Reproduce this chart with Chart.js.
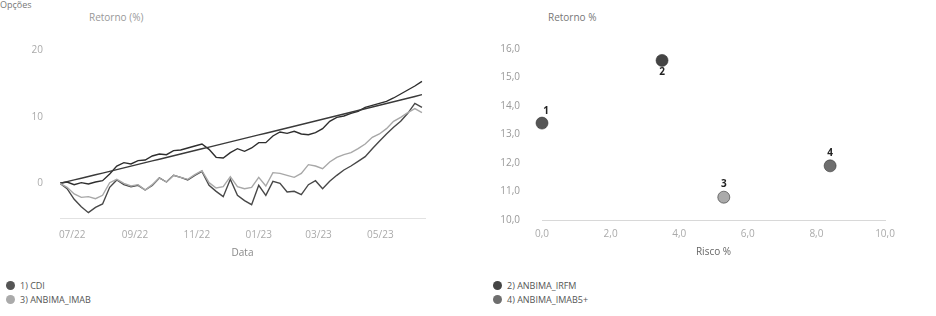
<!DOCTYPE html>
<html>
<head>
<meta charset="utf-8">
<script src="https://cdn.jsdelivr.net/npm/chart.js@4.4.0/dist/chart.umd.min.js"></script>
<style>
  body { margin: 0; width: 936px; height: 316px; background: #fff; position: relative; overflow: hidden; font-family: 'Open Sans', sans-serif; }
  .txt { position: absolute; color: #999; font-size: 10px; white-space: nowrap; }
  #leftBox { position: absolute; left: 0; top: 0; width: 470px; height: 270px; }
  #rightBox { position: absolute; left: 470px; top: 0; width: 466px; height: 270px; }
  .leg { position: absolute; font-size: 9px; color: #555; white-space: nowrap; line-height: 12px; }
  .dot { display: inline-block; width: 9px; height: 9px; border-radius: 50%; vertical-align: -1px; margin-right: 5px; }
</style>
</head>
<body>
<div class="txt" style="left:0;top:-2px;color:#777;font-size:9px">Opções</div>
<div class="txt" style="left:89px;top:10px">Retorno (%)</div>
<div class="txt" style="left:548px;top:10px;color:#777">Retorno %</div>
<div id="leftBox"><canvas id="retornoChart"></canvas></div>
<div id="rightBox"><canvas id="riscoChart"></canvas></div>
<div id="legend"></div>
<script>
// weekly series, first week starts 19/06/2022
const weekStart = '2022-06-19';
const cdi = [0, 0.25, 0.51, 0.76, 1.02, 1.28, 1.54, 1.8, 2.06, 2.32, 2.58, 2.84, 3.1, 3.36, 3.62, 3.88,
  4.14, 4.4, 4.66, 4.92, 5.18, 5.44, 5.7, 5.96, 6.22, 6.48, 6.74, 7.0, 7.26, 7.52, 7.78, 8.04,
  8.3, 8.56, 8.82, 9.08, 9.35, 9.61, 9.87, 10.13, 10.4, 10.66, 10.92, 11.18, 11.45, 11.71, 11.97,
  12.24, 12.5, 12.77, 13.03, 13.3];
const irfm = [0, 0.2, -0.2, 0.1, -0.1, 0.2, 0.4, 1.4, 2.6, 3.1, 2.9, 3.4, 3.5, 4.1, 4.4, 4.3,
  4.9, 5.0, 5.3, 5.6, 5.9, 5.1, 3.9, 3.8, 4.6, 5.2, 4.8, 5.3, 6.1, 6.1, 7.1, 7.7,
  7.5, 7.8, 7.4, 7.3, 7.6, 8.2, 9.3, 9.9, 10.1, 10.5, 10.8, 11.4, 11.7, 12.0, 12.3,
  12.8, 13.4, 14.0, 14.6, 15.3];
const imab = [0, -0.6, -1.6, -2.1, -2.0, -2.3, -1.8, 0.1, 0.6, 0.0, -0.4, -0.2, -1.0, -0.2, 0.8, 0.2,
  1.2, 0.9, 0.6, 1.3, 1.9, 0.1, -0.7, -0.5, 1.0, -0.5, -0.8, -0.6, 0.9, -0.4, 1.6, 1.5,
  1.2, 0.9, 1.5, 2.8, 2.6, 2.2, 3.2, 3.9, 4.3, 4.6, 5.2, 5.9, 6.9, 7.4, 8.2,
  9.3, 9.9, 10.6, 11.2, 10.6];
const imab5 = [0, -0.8, -2.4, -3.5, -4.4, -3.6, -3.1, -0.6, 0.5, -0.2, -0.5, -0.3, -1.0, -0.3, 0.8, 0.2,
  1.2, 0.9, 0.5, 1.2, 1.8, -0.3, -1.2, -2.0, 0.6, -1.8, -2.6, -3.2, -0.3, -1.8, 0.3, 0.0,
  -1.3, -1.2, -1.7, -0.2, 0.4, -0.8, 0.3, 1.2, 2.0, 2.6, 3.3, 4.0, 5.2, 6.3, 7.4,
  8.4, 9.3, 10.5, 12.0, 11.4];

const tickDates = ['2022-07-01', '2022-09-01', '2022-11-01', '2023-01-01', '2023-03-01', '2023-05-01'];
const tickLabels = ['07/22', '09/22', '11/22', '01/23', '03/23', '05/23'];

const names = ['1) CDI', '2) ANBIMA_IRFM', '3) ANBIMA_IMAB', '4) ANBIMA_IMAB5+'];
const risco = [0.0, 3.5, 5.3, 8.4];
const retorno = [13.4, 15.6, 10.8, 11.9];

const colors = ['#555', '#444', '#aaa', '#6e6e6e'];
const lineColors = ['#3a3a3a', '#2e2e2e', '#a8a8a8', '#484848'];

// days counted from 01/07/2022
const DAY = 86400000;
const origin = Date.parse('2022-07-01');
const dayOf = d => Math.round((Date.parse(d) - origin) / DAY);
const firstDay = dayOf(weekStart);
const days = cdi.map((_, i) => firstDay + 7 * i);

const toPts = arr => arr.map((v, i) => ({ x: days[i], y: v }));

const tickFont = { family: 'Open Sans', size: 10 };

new Chart(document.getElementById('retornoChart'), {
  type: 'line',
  data: {
    datasets: [
      { label: names[2], data: toPts(imab), borderColor: lineColors[2] },
      { label: names[3], data: toPts(imab5), borderColor: lineColors[3] },
      { label: names[0], data: toPts(cdi), borderColor: lineColors[0] },
      { label: names[1], data: toPts(irfm), borderColor: lineColors[1] }
    ]
  },
  options: {
    responsive: true,
    maintainAspectRatio: false,
    animation: false,
    layout: { padding: { top: 50, right: 45, left: 0, bottom: 0 } },
    elements: { point: { radius: 0 }, line: { borderWidth: 1.4, tension: 0 } },
    plugins: { legend: { display: false }, tooltip: { enabled: false } },
    scales: {
      x: {
        type: 'linear',
        min: -12,
        max: 348,
        grid: { display: false, drawTicks: false },
        border: { display: true, color: '#e2e2e2', dash: [2, 2] },
        afterBuildTicks: s => { s.ticks = tickDates.map(d => ({ value: dayOf(d) })); },
        afterFit: s => { s.height = 52; },
        ticks: { autoSkip: false, maxRotation: 0, padding: 11, color: '#aaa', font: tickFont,
          callback: (v, i) => tickLabels[i] },
        title: { display: true, text: 'Data', color: '#888', font: tickFont, padding: { top: 0, bottom: 11 } }
      },
      y: {
        min: -5.2,
        max: 20,
        grid: { display: false, drawTicks: false },
        border: { display: false },
        afterFit: s => { s.width = 60; },
        afterBuildTicks: s => { s.ticks = [0, 10, 20].map(v => ({ value: v })); },
        ticks: { padding: 17, color: '#aaa', font: tickFont }
      }
    }
  }
});

const tagOffsets = [[4, -12], [0, 12], [0, -13], [0, -13]];

const pointTags = {
  id: 'pointTags',
  afterDatasetsDraw(chart) {
    const ctx = chart.ctx;
    ctx.save();
    ctx.font = 'bold 10px "Open Sans"';
    ctx.fillStyle = '#222';
    ctx.textAlign = 'center';
    ctx.textBaseline = 'middle';
    chart.data.datasets.forEach((ds, i) => {
      const pt = chart.getDatasetMeta(i).data[0];
      ctx.fillText(String(i + 1), pt.x + tagOffsets[i][0], pt.y + tagOffsets[i][1]);
    });
    ctx.restore();
  }
};

new Chart(document.getElementById('riscoChart'), {
  type: 'scatter',
  data: {
    datasets: names.map((n, i) => ({
      label: n,
      data: [{ x: risco[i], y: retorno[i] }],
      backgroundColor: colors[i],
      borderColor: '#333',
      borderWidth: 0.6,
      pointRadius: 6,
      clip: false
    }))
  },
  options: {
    responsive: true,
    maintainAspectRatio: false,
    animation: false,
    layout: { padding: { top: 49, right: 51, left: 0, bottom: 0 } },
    plugins: { legend: { display: false }, tooltip: { enabled: false } },
    scales: {
      x: {
        min: 0,
        max: 10,
        grid: { display: false, drawTicks: false },
        border: { display: true, color: '#d8d8d8', dash: [2, 2] },
        afterFit: s => { s.height = 50; },
        ticks: { stepSize: 2, padding: 8, color: '#aaa', font: tickFont,
          callback: v => v.toFixed(1).replace('.', ',') },
        title: { display: true, text: 'Risco %', color: '#666', font: tickFont, padding: { top: 0, bottom: 12 } }
      },
      y: {
        min: 10,
        max: 16,
        grid: { display: false, drawTicks: false },
        border: { display: false },
        afterFit: s => { s.width = 72; },
        ticks: { stepSize: 1, padding: 22, color: '#999', font: tickFont,
          callback: v => v.toFixed(1).replace('.', ',') }
      }
    }
  },
  plugins: [pointTags]
});

// legend under both charts, two columns
const legend = document.getElementById('legend');
const legCols = [6, 493];
const legRows = [280, 294];
names.forEach((n, i) => {
  const el = document.createElement('div');
  el.className = 'leg';
  el.style.left = legCols[i % 2] + 'px';
  el.style.top = legRows[Math.floor(i / 2)] + 'px';
  el.innerHTML = '<span class="dot" style="background:' + colors[i] + '"></span>' + n;
  legend.appendChild(el);
});
</script>
</body>
</html>
